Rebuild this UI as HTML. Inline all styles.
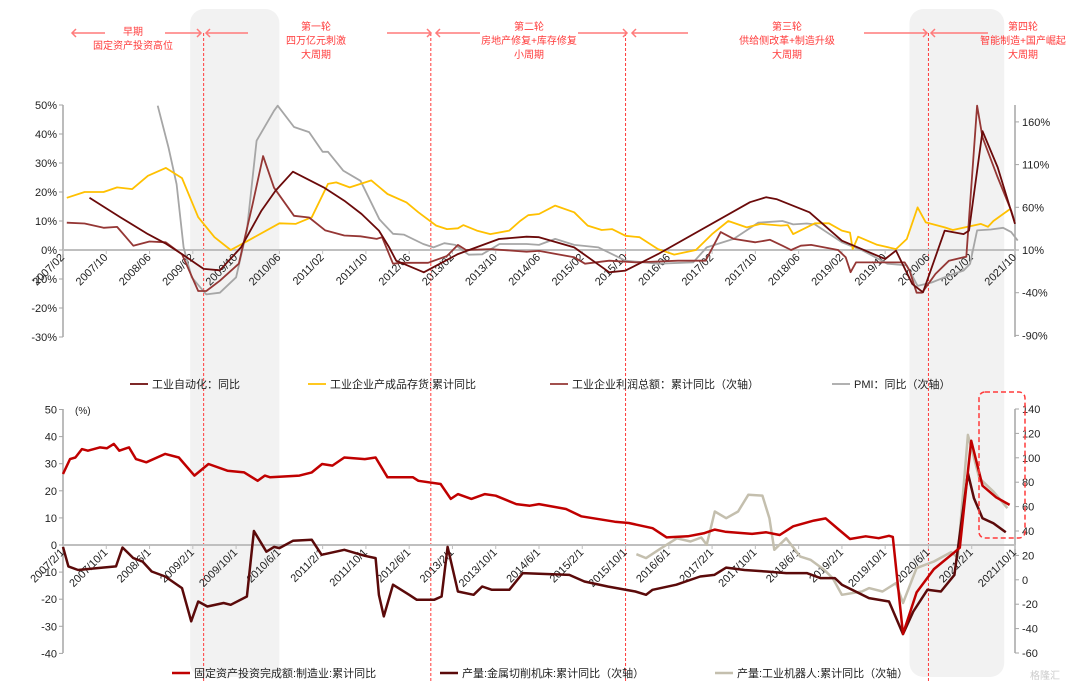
<!DOCTYPE html>
<html><head><meta charset="utf-8"><style>
body{margin:0;background:#fff}
svg{display:block;font-family:"Liberation Sans","Noto Sans CJK SC",sans-serif}
</style></head><body>
<svg id="c" width="1080" height="683" viewBox="0 0 1080 683"></svg>
<script>
// ---- time axis: months since 2007/02 ----
const topTickLabels=["2007/02","2007/10","2008/06","2009/02","2009/10","2010/06","2011/02","2011/10","2012/06","2013/02","2013/10","2014/06","2015/02","2015/10","2016/06","2017/02","2017/10","2018/06","2019/02","2019/10","2020/06","2021/02","2021/10"];
const botTickLabels=["2007/2/1","2007/10/1","2008/6/1","2009/2/1","2009/10/1","2010/6/1","2011/2/1","2011/10/1","2012/6/1","2013/2/1","2013/10/1","2014/6/1","2015/2/1","2015/10/1","2016/6/1","2017/2/1","2017/10/1","2018/6/1","2019/2/1","2019/10/1","2020/6/1","2021/2/1","2021/10/1"];
const topLeftTicks=[50,40,30,20,10,0,-10,-20,-30];
const topRightTicks=[160,110,60,10,-40,-90];
const botLeftTicks=[50,40,30,20,10,0,-10,-20,-30,-40];
const botRightTicks=[140,120,100,80,60,40,20,0,-20,-40,-60];
// phase boundaries (months since 2007/02)
const phaseMonths=[26,68,104,160];
const shadeRanges=[[23.5,40],[156.5,174]];
// ---- top series ----
const autoM=[4.9,10.6,15.7,18.9,22,26,29,32.9,36.7,39.3,42.5,48.2,52,55.2,58.4,60.3,61.6,66.7,73,80.6,85.7,88,94.5,101,104,110,127,130,132,138,144,152,154,157,159,163,166.5,167.5,170,172.8,176];
const autoV=[18,11.3,5.5,2.3,-1.4,-6.5,-7,0.9,13.6,20.5,27,21.6,17,12.4,6.7,0.9,-3.7,-7.7,-1.4,3.8,4.6,4.4,0.9,-7.7,-7.1,-1.4,16.5,18.2,17.5,13,3.2,-3.1,-0.2,-11.7,-14.6,6.7,5.5,6.7,41,28.5,9];
const invM=[0.7,4,7.5,10,12.8,15.7,19,22,25,28,31,34,40,43,46,49,50.5,53,57,60,63.5,65.7,69,71,73,74,76.5,79,82.5,84.5,86,88,91,94.5,97,99.6,101.5,104,106.6,110,113,117,120,123,126.4,129,132.7,134,135,139,141.6,144,145.5,146,147,150.5,154,156,158,159.5,163,164.5,169.7,171,172,175];
const invV=[18,20,20,21.6,21,25.6,28.3,24.8,11.3,4.4,0,3,9.2,9,11.3,22.8,23.3,21.6,24,19.3,16.4,13,8.4,7.2,7.5,8.6,6.7,5.5,6.7,10,12,12.4,15.3,13,8.4,6.9,7.2,4.9,4.4,0.3,-1.6,0,5.5,10,7.8,9,8.4,8.6,5.5,9.2,9.2,6.7,6,0.3,4.6,1.8,0.3,3.8,14.7,9.5,7.8,6.9,9,8,10,14];
const profM=[0.7,4,7.5,10,13,16,19,22,25,26.5,29,32.5,35,37,39,42.7,45.5,48.5,52,55,58,59,61,62.7,67.5,71,73,74.5,79,85.7,88,94.5,96.5,101,106,113.7,118.8,121.6,124,128,130.7,133,134.6,136.4,138.3,143.3,144.7,145.6,146.6,152.4,155.6,156.5,157.8,158.8,161.3,163.8,166.5,167,169,170,172.8,175.3,175.9];
const profV=[42,41,36,37,15,20,19,5,-38,-38,-26,-6,62,120,83,50,48,33,27,26,23,25,-6,-5,-5,3,16,10,11,8,9,1.5,-6,-2.5,-4.5,-2.5,-2.5,31,23,19,22,15,10,15,16,10,1.5,-16,-4.5,-4.5,-4.5,-14,-40,-40,-18,-2.5,1.5,2,179,142,95,56,44];
const pmiM=[17.5,19.5,21,22.3,23.8,26.5,29,32,34,35.8,39,39.7,42.7,45.5,48,49,51.8,55,58.5,61,63,66.6,68.5,70.5,72.5,75,77.5,80.7,85.7,88,91,94.5,99,104,110,116.5,119,124,128.5,133,135,137.5,139,144,148,152.4,156,158,160.6,163.8,166.5,167.7,169,171.5,173.8,175.3,176.5];
const pmiV=[179,130,87,13,-22,-42,-40,-22,33,138,173,179,154,148,125,125,103,91,46,29,28,17,13,18,16,4.5,5,17,17,16,23,16,13,-2.5,-6,-4.5,13,23,42,44,40,41,40,19,9,-6,-8,-32,-28,-20,-14,-6,33,34,36,31,21];
// ---- bottom series ----
const faiM=[0,1.3,2.3,3.5,4.6,6.8,8.1,9.4,10.4,12.2,13.5,15.4,18.9,21.4,24.3,26.9,30.4,33.5,36,37.3,38.3,43.7,46,47.9,49.8,52,55.8,57.8,60,64.7,65.7,69.8,71.7,73,75.5,78,80,83.8,86.3,88,93,95.8,102,104.6,109,111.6,115.5,118.6,120.5,122.4,127.4,130,132.5,135,138.8,141,143.3,145.5,148.4,150.8,152.7,153.4,155.3,157.8,161,164.8,165.8,167.9,170,172.5,175];
const faiV=[26.2,31.7,32.3,35.4,34.8,36,35.7,37.3,34.8,36,31.7,30.5,33.6,32.3,25.6,29.9,27.4,26.8,23.7,25.6,25,25.6,26.8,29.9,29.3,32.3,31.7,32.3,25,25,23.7,22.5,17,18.8,17,18.8,18.2,15.1,14.5,15.1,13.3,10.6,8.6,8.1,6.2,2.8,3.2,4.4,5.7,4.9,4.1,4.7,3.7,6.9,9,9.8,5.9,2.2,3.2,2.5,3.4,3,-32.8,-17.5,-8.9,-2.7,-1,38.5,21.9,17.6,14.8];
const toolM=[0,1,2.8,7.3,9.8,11,13,14.7,16.4,18.9,22,23.7,25,26.7,29.7,31,34,35.3,37.6,39,40,42.5,46,47.8,52,55.8,57.8,58.4,59.3,61,64,65.4,68.6,70,71.1,73,75.9,77.5,79.3,82.5,85,88,93.6,96.4,100.7,105.8,107.8,109,113.4,117.8,120.4,122.6,126,130,133.7,137.5,140,142.7,144,149,152.7,155.3,157.2,159.8,162.3,164.8,167.3,168.4,170,172,174.3];
const toolV=[27,11,8,10,11,26.5,17.8,15,6.8,2.7,-6.8,-34,-17.8,-21.9,-19,-20.5,-13.7,40,23,27,26,32,32.8,20.5,24.6,19.7,17.8,-12.3,-30,-4,-12.3,-16.4,-16.4,-13.7,27,-9.6,-12.3,-5.5,-8.2,-8.2,5.5,5,4,-1.4,-5.5,-9.6,-12.3,-8.2,-4,2.7,4,10,8,6.8,5.5,5.5,1.4,1.4,-4,-15,-17.8,-44.5,-26,-8.2,-9.6,4,87.4,67,50.5,46.4,39];
const robotM=[106,107.8,110.4,113.5,116,118,119,120.5,122.6,124.8,126.7,129.3,130.6,131.5,133.7,136.3,138.2,140.7,142.3,144,147.7,149,151.5,154,155.3,157.8,161,164.2,165.4,167.3,169.4,172,174.6];
const robotV=[21,17.8,25.4,34,31.4,34.7,28.7,56,50.5,56,69.7,69,50.5,24.6,34,19,16.4,8.2,1.4,-12.3,-9.6,-6.8,-9.6,-2.7,-19,9.6,15,22.7,18.3,118.8,83.3,72.4,58.7];

const NS="http://www.w3.org/2000/svg";
const svg=document.getElementById('c');
function mk(tag,attrs,parent){const e=document.createElementNS(NS,tag);for(const k in attrs)e.setAttribute(k,attrs[k]);(parent||svg).appendChild(e);return e;}
const X0=63,X1=1015,MMAX=176;
const xm=m=>X0+m*(X1-X0)/MMAX;
const yTL=v=>250-v*2.9;
const yTR=v=>250-(v-10)*0.854;
const yBL=v=>545-v*2.71;
const yBR=v=>409+(140-v)*1.22;
const RED="#ff3b3b";

// shades
shadeRanges.forEach((r,i)=>{
  const e=mk('rect',{x:xm(r[0]),y:9,width:xm(r[1])-xm(r[0]),height:668,rx:14,fill:'#f2f2f2'});
  
  
});
// phase lines
phaseMonths.forEach((m,i)=>{
  const e=mk('line',{x1:xm(m),x2:xm(m),y1:33,y2:683,stroke:RED,'stroke-width':1,'stroke-dasharray':'3,2'});
  
  
});
// arrows
const arrowSegs=[[72,105,'l'],[165,201,'r'],[206,248,'l'],[387,431,'r'],[436,480,'l'],[578,627,'r'],[632,688,'l'],[864,927,'r'],[931,988,'l']];
arrowSegs.forEach(s=>{
  const g=mk('g',{stroke:'#ff7a7a','stroke-width':1.5,fill:'none'});
  
  
  mk('line',{x1:s[0],x2:s[1],y1:33,y2:33},g);
  const hx=s[2]=='l'?s[0]:s[1],d=s[2]=='l'?4:-4;
  mk('polyline',{points:`${hx+d},29 ${hx},33 ${hx+d},37`},g);
});
// annotations
const notes=[[133,["早期","固定资产投资高位"],31],[316,["第一轮","四万亿元刺激","大周期"],26],[529,["第二轮","房地产修复+库存修复","小周期"],26],[787,["第三轮","供给侧改革+制造升级","大周期"],26],[1023,["第四轮","智能制造+国产崛起","大周期"],26]];
notes.forEach((n,i)=>{
  const t=mk('text',{x:n[0],y:n[2]+4,'text-anchor':'middle','font-size':10,fill:RED});
  
  
  n[1].forEach((s,j)=>{const ts=mk('tspan',{x:n[0],dy:j?14:0},t);ts.textContent=s;});
});

function axisText(x,y,s,anchor,name){const t=mk('text',{x,y,'font-size':11,fill:'#222','text-anchor':anchor});t.textContent=s;return t;}
function drawAxes(yZero,yTop,yBot,lt,lf,fmtL,rt,rf,fmtR,xl,labY,pre){
  const g=mk('g',{});
  
  
  mk('line',{x1:X0,x2:X0,y1:yTop,y2:yBot,stroke:'#a6a6a6','stroke-width':1.5},g);
  mk('line',{x1:X1,x2:X1,y1:yTop,y2:yBot,stroke:'#a6a6a6','stroke-width':1.5},g);
  lt.forEach(v=>{mk('line',{x1:X0-4,x2:X0,y1:lf(v),y2:lf(v),stroke:'#a6a6a6'},g);axisText(X0-6,lf(v)+4,fmtL(v),'end',pre+'-left-tick');});
  rt.forEach(v=>{mk('line',{x1:X1,x2:X1+4,y1:rf(v),y2:rf(v),stroke:'#a6a6a6'},g);axisText(X1+7,rf(v)+4,fmtR(v),'start',pre+'-right-tick');});
  mk('line',{x1:X0,x2:X1,y1:yZero,y2:yZero,stroke:'#bfbfbf','stroke-width':2},g);
  xl.forEach((s,i)=>{
    const x=xm(i*8);
    mk('line',{x1:x,x2:x,y1:yZero,y2:yZero+4,stroke:'#bfbfbf'},g);
    const t=mk('text',{x:x+2,y:labY,'font-size':11,fill:'#222','text-anchor':'end',transform:`rotate(-45 ${x+2} ${labY})`});
    t.textContent=s;
    
    
  });
}
drawAxes(250,105,337,topLeftTicks,yTL,v=>v+'%',topRightTicks,yTR,v=>v+'%',topTickLabels,258,'top');
drawAxes(545,409,653,botLeftTicks,yBL,v=>''+v,botRightTicks,yBR,v=>''+v,botTickLabels,553,'bottom');
axisText(75,414,'(%)','start','unit-label').setAttribute('font-size',10);

function series(ms,vs,yf,color,w,name){
  const pts=ms.map((m,i)=>xm(m).toFixed(1)+','+yf(vs[i]).toFixed(1)).join(' ');
  const p=mk('polyline',{points:pts,fill:'none',stroke:color,'stroke-width':w,'stroke-linejoin':'round'});
  
  
}
series(pmiM,pmiV,yTR,'#a6a6a6',1.8,'pmi-line');
series(invM,invV,yTL,'#ffc000',1.8,'inventory-line');
series(profM,profV,yTR,'#953735',1.8,'profit-line');
series(autoM,autoV,yTL,'#6b0a0a',1.8,'automation-line');
series(robotM,robotV,yBR,'#c4bfae',2.5,'robot-output-line');
series(toolM,toolV,yBR,'#5b0a0a',2.5,'machine-tool-line');
series(faiM,faiV,yBL,'#c00000',2.5,'fai-manufacturing-line');

// dashed highlight box
const box=mk('rect',{x:979,y:392,width:46,height:146,rx:6,fill:'none',stroke:RED,'stroke-width':1.5,'stroke-dasharray':'5,3'});



// legends
const legTop=[[130,'#6b0a0a','工业自动化：同比'],[308,'#ffc000','工业企业产成品存货:累计同比'],[550,'#953735','工业企业利润总额：累计同比（次轴）'],[832,'#a6a6a6','PMI：同比（次轴）']];
const legBot=[[172,'#c00000','固定资产投资完成额:制造业:累计同比'],[440,'#5b0a0a','产量:金属切削机床:累计同比（次轴）'],[715,'#c4bfae','产量:工业机器人:累计同比（次轴）']];
function legend(items,y,w,pre){
  items.forEach(it=>{
    const g=mk('g',{});
    
    
    mk('line',{x1:it[0],x2:it[0]+18,y1:y,y2:y,stroke:it[1],'stroke-width':w},g);
    const t=mk('text',{x:it[0]+22,y:y+4,'font-size':11,fill:'#222'},g);t.textContent=it[2];
  });
}
legend(legTop,384,1.8,'top');
legend(legBot,673,2.5,'bottom');
const wm=mk('text',{x:1030,y:679,'font-size':10,fill:'#ccc'});wm.textContent='格隆汇';


</script>
</body></html>
